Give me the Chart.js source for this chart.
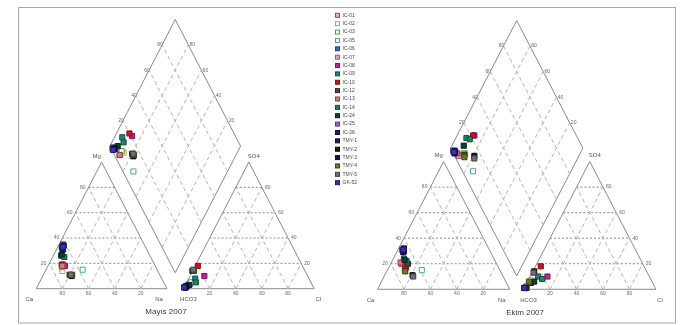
<!DOCTYPE html>
<html>
<head>
<meta charset="utf-8">
<script src="https://cdn.jsdelivr.net/npm/chart.js@4.4.0/dist/chart.umd.min.js"></script>
<style>
  html, body { margin: 0; padding: 0; background: #fff; overflow: hidden; }
  canvas { display: block; }
</style>
</head>
<body>
<canvas id="piper" width="684" height="325"></canvas>
<script>
// Sampling points
const sampleNames = ['IC-01','IC-02','IC-03','IC-05','IC-06','IC-07','IC-08','IC-09','IC-10','IC-12',
  'IC-13','IC-14','IC-24','IC-25','IC-26','TMY-1','TMY-2','TMY-3','TMY-4','TMY-5','GK-52'];
const fillColors = ['#e6b0b8','#ffffff','#ffffff','#ffffff','#3a6aa8','#e2a6c4','#c0209a','#208080','#d01020','#504a40',
  '#d08080','#2a8060','#104028','#8070c8','#401060','#182060','#202018','#101048','#6a7a20','#707070','#3a30b0'];
const edgeColors = ['#b04050','#b8a830','#40a040','#4aa0b0','#2a4a78','#a05080','#801060','#105050','#801018','#282420',
  '#904040','#184a38','#082018','#504090','#200830','#0c1030','#000000','#080820','#3a4410','#404040','#201870'];

// Mayıs 2007 — cations (% meq)
const mayCa   = [70,73,72,57,64,70,69,68,71,69,71,66,67,62,64,64,68,62,67,68,63];
const mayMg   = [19,14,17,15,33,19,18,26,19,11,18,25,27,35,32,31,10,34,11,11,33];
const mayNa   = [11,13,11,28, 3,11,13, 6,10,20,11, 9, 6, 3, 4, 5,22, 4,22,21, 4];
// Mayıs 2007 — anions (% meq)
const mayHCO3 = [95,92,93,92,98,96,79,87,80,86,96,88,94,99,98,97,86,98,85,85,99];
const maySO4  = [ 3, 5, 4, 5, 1, 2,10, 8,18,14, 2, 5, 3, 1, 1, 2,14, 1,14,15, 1];
const mayCl   = [ 2, 3, 3, 3, 1, 2,11, 5, 2, 0, 2, 7, 3, 0, 1, 1, 0, 1, 1, 0, 0];

// Ekim 2007 — cations (% meq)
const ekimCa   = [72,72,70,59,65,71,70,68,70,67,72,67,68,66,65,64,68,66,72,68,65];
const ekimMg   = [20,15,18,15,31,20,17,24,18,20,21,22,23,31,30,32,11,29,14,10,31];
const ekimNa   = [ 8,13,12,26, 4, 9,13, 8,12,13, 7,11, 9, 3, 5, 4,21, 5,14,22, 4];
// Ekim 2007 — anions (% meq)
const ekimHCO3 = [97,91,92,92,98,97,77,84,78,92,97,82,89,99,98,98,85,99,93,86,99];
const ekimSO4  = [ 2, 7, 5, 5, 1, 1,10,10,18, 5, 2, 8, 6, 1, 1, 1,14, 1, 6,13, 1];
const ekimCl   = [ 1, 2, 3, 3, 1, 2,13, 6, 4, 3, 1,10, 5, 0, 1, 1, 1, 0, 1, 1, 0];

const gridSteps = [20, 40, 60, 80];
const panelTitles = ['Mayıs 2007', 'Ekim 2007'];
const cationNames = ['Ca', 'Mg', 'Na'];
const anionNames = ['HCO3', 'SO4', 'Cl'];

// Placement of the two Piper panels on the page
const panels = [
  { x0: 31.7, base: 292.7, side: 132.7, gap: 16.7, top: 15.0, titleDx: -9.4 },
  { x0: 378.0, base: 293.3, side: 134.3, gap: 14.0, top: 16.0, titleDx: 8.5 }
];
panels.forEach(p => {
  const total = 2 * p.side + p.gap;
  p.h = (p.base - p.top) * p.side / total;        // triangle height
  p.xA = p.x0 + p.side + p.gap;                    // HCO3 corner
  p.bx = p.x0 + p.side + p.gap / 2;                // diamond bottom
  p.by = p.base - (p.base - p.top) * p.gap / total;
});

function cationPt(p, mg, na) {
  return { x: p.x0 + p.side * (na + mg / 2) / 100, y: p.base - p.h * mg / 100 };
}
function anionPt(p, so4, cl) {
  return { x: p.xA + p.side * (cl + so4 / 2) / 100, y: p.base - p.h * so4 / 100 };
}
function diamondPt(p, caMg, so4Cl) {
  const u = caMg / 100, v = so4Cl / 100;
  return { x: p.bx + p.side * (v - u) / 2, y: p.by - p.h * (u + v) };
}

const BREAK = { x: NaN, y: NaN };
function polyline(list) {
  const out = [];
  list.forEach(seg => { seg.forEach(pt => out.push(pt)); out.push(BREAK); });
  return out;
}

const outlineSegs = [], levelSegs = [], slantSegs = [];
panels.forEach(p => {
  outlineSegs.push([cationPt(p, 0, 0), cationPt(p, 0, 100), cationPt(p, 100, 0), cationPt(p, 0, 0)]);
  outlineSegs.push([anionPt(p, 0, 0), anionPt(p, 0, 100), anionPt(p, 100, 0), anionPt(p, 0, 0)]);
  outlineSegs.push([diamondPt(p, 0, 0), diamondPt(p, 100, 0), diamondPt(p, 100, 100), diamondPt(p, 0, 100), diamondPt(p, 0, 0)]);
  gridSteps.forEach(t => {
    levelSegs.push([cationPt(p, t, 0), cationPt(p, t, 100 - t)]);
    levelSegs.push([anionPt(p, t, 0), anionPt(p, t, 100 - t)]);
    slantSegs.push([cationPt(p, 0, t), cationPt(p, 100 - t, t)]);
    slantSegs.push([cationPt(p, 0, 100 - t), cationPt(p, 100 - t, 0)]);
    slantSegs.push([anionPt(p, 0, t), anionPt(p, 100 - t, t)]);
    slantSegs.push([anionPt(p, 0, 100 - t), anionPt(p, 100 - t, 0)]);
    slantSegs.push([diamondPt(p, t, 0), diamondPt(p, t, 100)]);
    slantSegs.push([diamondPt(p, 0, t), diamondPt(p, 100, t)]);
  });
});

function lineSet(label, segs, color, dash, order) {
  return { label, data: polyline(segs), showLine: true, pointRadius: 0, pointHoverRadius: 0,
    borderColor: color, borderWidth: 1, borderDash: dash, fill: false, spanGaps: false,
    order, isFrame: true };
}

const seasons = [
  { ca: mayCa, mg: mayMg, na: mayNa, hco3: mayHCO3, so4: maySO4, cl: mayCl },
  { ca: ekimCa, mg: ekimMg, na: ekimNa, hco3: ekimHCO3, so4: ekimSO4, cl: ekimCl }
];

// later samples are painted over earlier ones
const sampleSets = sampleNames.map((name, i) => {
  const pts = [];
  seasons.forEach((s, k) => {
    const p = panels[k];
    const cSum = s.ca[i] + s.mg[i] + s.na[i];
    const aSum = s.hco3[i] + s.so4[i] + s.cl[i];
    const mg = 100 * s.mg[i] / cSum, na = 100 * s.na[i] / cSum;
    const so4 = 100 * s.so4[i] / aSum, cl = 100 * s.cl[i] / aSum;
    pts.push(cationPt(p, mg, na));
    pts.push(anionPt(p, so4, cl));
    pts.push(diamondPt(p, 100 - na, so4 + cl));
  });
  return { label: name, data: pts, showLine: false, pointStyle: 'rect', pointRadius: 3.6,
    backgroundColor: fillColors[i], borderColor: edgeColors[i], borderWidth: 1,
    order: sampleNames.length - i };
});

const FONT = '"Liberation Sans", Arial, sans-serif';

const piperText = {
  id: 'piperText',
  beforeDraw(chart) {
    const ctx = chart.ctx;
    ctx.save();
    ctx.fillStyle = '#fff';
    ctx.fillRect(0, 0, chart.width, chart.height);
    ctx.strokeStyle = '#a8a8a8';
    ctx.lineWidth = 1;
    ctx.strokeRect(18.5, 7.5, 657, 315.5);
    ctx.restore();
  },
  beforeDatasetsDraw(chart) {
    const ctx = chart.ctx, sx = chart.scales.x, sy = chart.scales.y;
    const X = v => sx.getPixelForValue(v), Y = v => sy.getPixelForValue(v);
    ctx.save();
    ctx.textBaseline = 'middle';
    panels.forEach((p, k) => {
      ctx.fillStyle = '#6a6a6a';
      ctx.font = '5px ' + FONT;
      gridSteps.forEach(t => {
        let q;
        ctx.textAlign = 'right';
        q = cationPt(p, t, 0); ctx.fillText(String(t), X(q.x) - 3, Y(q.y));
        ctx.textAlign = 'left';
        q = anionPt(p, t, 100 - t); ctx.fillText(String(t), X(q.x) + 3, Y(q.y));
        ctx.textAlign = 'center';
        q = cationPt(p, 0, 100 - t); ctx.fillText(String(t), X(q.x), Y(q.y) + 4.5);
        q = anionPt(p, 0, t); ctx.fillText(String(t), X(q.x), Y(q.y) + 4.5);
        q = diamondPt(p, 100, t); ctx.fillText(String(t), X(q.x) - 2, Y(q.y));
        q = diamondPt(p, t, 100); ctx.fillText(String(t), X(q.x) + 4, Y(q.y));
      });
      ctx.fillStyle = '#555';
      ctx.font = '6px ' + FONT;
      let q;
      q = cationPt(p, 0, 0);   ctx.fillText(cationNames[0], X(q.x) - 7, Y(q.y) + 11);
      q = cationPt(p, 100, 0); ctx.fillText(cationNames[1], X(q.x) - 5, Y(q.y) - 6);
      q = cationPt(p, 0, 100); ctx.fillText(cationNames[2], X(q.x) - 8, Y(q.y) + 11);
      q = anionPt(p, 0, 0);    ctx.fillText(anionNames[0], X(q.x) + 5, Y(q.y) + 11);
      q = anionPt(p, 100, 0);  ctx.fillText(anionNames[1], X(q.x) + 5, Y(q.y) - 6);
      q = anionPt(p, 0, 100);  ctx.fillText(anionNames[2], X(q.x) + 4, Y(q.y) + 11);
      ctx.fillStyle = '#3a3a3a';
      ctx.font = '8px ' + FONT;
      ctx.fillText(panelTitles[k], X(p.bx + p.titleDx), Y(p.base) + 23.5);
    });
    ctx.restore();
  },
  afterDraw(chart) {
    // sample legend between the two panels
    const ctx = chart.ctx;
    ctx.save();
    ctx.textBaseline = 'middle';
    ctx.textAlign = 'left';
    ctx.font = '5px ' + FONT;
    chart.data.datasets.filter(d => !d.isFrame).forEach((d, i) => {
      const y = 15.3 + i * 8.37;
      ctx.fillStyle = d.backgroundColor;
      ctx.strokeStyle = d.borderColor;
      ctx.lineWidth = 1;
      ctx.fillRect(335.5, y - 2, 4, 4);
      ctx.strokeRect(335.5, y - 2, 4, 4);
      ctx.fillStyle = '#444';
      ctx.fillText(d.label, 342.5, y);
    });
    ctx.restore();
  }
};

new Chart(document.getElementById('piper'), {
  type: 'scatter',
  data: {
    datasets: [
      ...sampleSets,
      lineSet('frame', outlineSegs, '#8a8a8a', [], 40),
      lineSet('levels', levelSegs, '#8c8c8c', [2, 2], 39),
      lineSet('slants', slantSegs, '#b4b4b4', [4, 3], 38)
    ]
  },
  options: {
    responsive: false,
    animation: false,
    events: [],
    layout: { padding: 0 },
    scales: {
      x: { type: 'linear', min: 0, max: 684, display: false },
      y: { type: 'linear', min: 0, max: 325, reverse: true, display: false }
    },
    plugins: { legend: { display: false }, tooltip: { enabled: false } }
  },
  plugins: [piperText]
});
</script>
</body>
</html>
